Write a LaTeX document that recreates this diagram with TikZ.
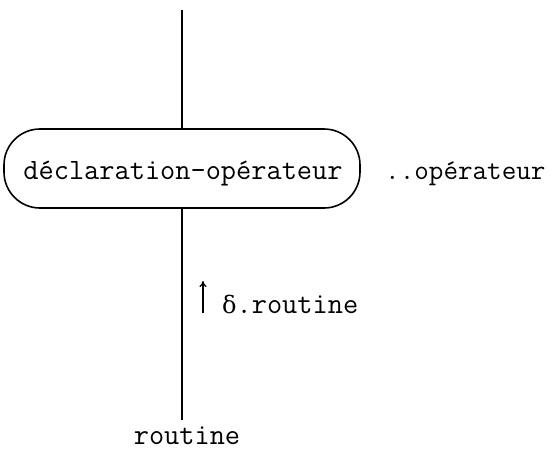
\documentclass[tikz,border=0pt]{standalone}
\usepackage{fontspec}
\newfontfamily\grkfont{DejaVu Serif}
\usetikzlibrary{arrows.meta}
\begin{document}
\begin{tikzpicture}[x=1pt,y=-1pt,
  line/.style={line width=1.6pt},
  lbl/.style={font=\fontsize{29.5}{32}\selectfont\ttfamily, inner sep=0pt},
  boxst/.style={draw, line width=1.6pt, rounded corners=36pt, minimum width=356pt, minimum height=79pt, inner sep=0pt}]
\useasboundingbox (0,0) rectangle (551,455);
\node[boxst] (box) at (182,168.5) {};
\node[lbl, anchor=base] (boxt) at (183,179) {déclaration-opérateur};
\node[lbl, anchor=base west, font=\fontsize{28.3}{31}\selectfont\ttfamily] (op) at (385,179) {..opérateur};
\coordinate (top) at (182,10);
\coordinate (bot) at (182,420);
\draw[line] (top) -- (box.north);
\draw[line] (box.south) -- (bot);
\coordinate (a1) at (203,313);
\coordinate (a2) at (203,281);
\draw[line width=1.3pt, -{To[length=6pt,width=7pt]}] (a1) -- (a2);
\node[lbl, anchor=base west] (delta) at (222,313) {{\grkfont\fontsize{24}{26}\selectfont δ}.routine};
\node[lbl, anchor=base] (rout) at (187,444) {routine};
\end{tikzpicture}
\end{document}
